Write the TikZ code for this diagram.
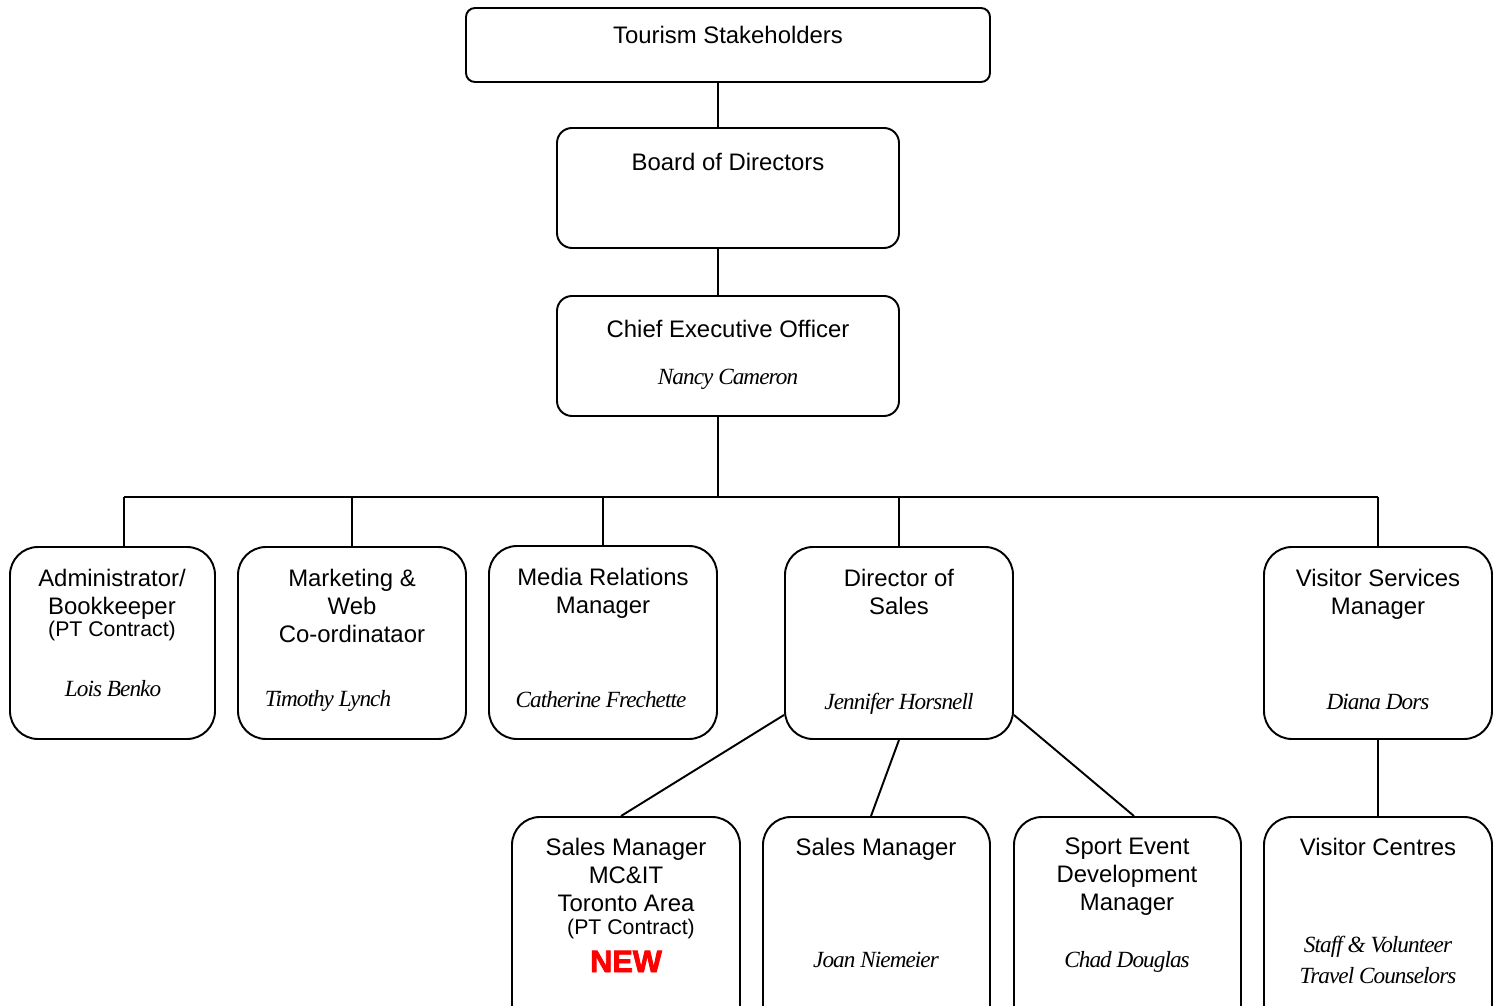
\documentclass[tikz,border=0pt]{standalone}
\usepackage{fontspec}
\setsansfont{Liberation Sans}
\newfontfamily\namefont[LetterSpace=-4]{Liberation Serif}
\newfontfamily\heavyfont[FakeBold=2.5]{Liberation Sans Bold}
\usetikzlibrary{fit}
\definecolor{newred}{RGB}{255,0,0}

\begin{document}
\begin{tikzpicture}[x=0.02cm,y=-0.02cm,line width=1.1pt,
  box/.style={draw,rounded corners=#1,inner sep=0pt},
  box/.default=0.56cm,
  ttl/.style={anchor=north,inner sep=0pt,align=center,font=\sffamily\fontsize{13.6}{15.9}\selectfont},
  who/.style={anchor=base,inner sep=0pt,align=center,font=\namefont\itshape\fontsize{13.2}{18}\selectfont}]
\useasboundingbox (0,0) rectangle (1499,1006);
\clip (0,0) rectangle (1499,1006);
% top of the chart
\node[box=0.18cm,fit={(466,8) (990,82)}] (tour) {};
\node[box=0.3cm,fit={(557,128) (899,248)}] (board) {};
\node[box=0.3cm,fit={(557,296) (899,416)}] (ceo) {};
\node[ttl] (tourT) at (728,25) {Tourism Stakeholders};
\node[ttl] (boardT) at (728,152) {Board of Directors};
\node[ttl] (ceoT) at (728,319) {Chief Executive Officer};
\node[who] (ceoN) at (728,385) {Nancy Cameron};
\coordinate (spine) at (718,497);
\coordinate (busL) at (124,497);
\coordinate (busR) at (1378,497);
\draw (tour.south -| spine) -- (board.north -| spine);
\draw (board.south -| spine) -- (ceo.north -| spine);
\draw (ceo.south -| spine) -- (spine);
% managers
\node[box,fit={(10,547) (215,739)}] (admin) {};
\node[box,fit={(238,547) (466,739)}] (mkt) {};
\node[box,fit={(489,546) (717,739)}] (media) {};
\node[box,fit={(785,547) (1013,739)}] (dir) {};
\node[box,fit={(1264,547) (1492,739)}] (vis) {};
\node[ttl] (adminT) at (112,568) {Administrator/\\Bookkeeper\\[-0.12cm]{\fontsize{12.1}{14}\selectfont(PT Contract)}};
\node[who] (adminN) at (113,697) {Lois Benko};
\node[ttl] (mktT) at (352,568) {Marketing \&\\Web\\Co-ordinataor};
\node[who] (mktN) at (328,707) {Timothy Lynch};
\node[ttl] (mediaT) at (603,567) {Media Relations\\Manager};
\node[who] (mediaN) at (601,708) {Catherine Frechette};
\node[ttl] (dirT) at (899,568) {Director of\\Sales};
\node[who] (dirN) at (899,710) {Jennifer Horsnell};
\node[ttl] (visT) at (1378,568) {Visitor Services\\Manager};
\node[who] (visN) at (1378,710) {Diana Dors};
\draw (busL) -- (busR);
\draw (busL) -- (busL |- admin.north);
\foreach \n in {mkt,media,dir,vis}
  \draw (\n.north) -- (\n.north |- busL);
% sales team and centres
\node[box,fit={(512,817) (740,1040)}] (smc) {};
\node[box,fit={(763,817) (990,1040)}] (sales) {};
\node[box,fit={(1014,817) (1241,1040)}] (sport) {};
\node[box,fit={(1264,817) (1492,1040)}] (vcent) {};
\node[ttl] (smcT) at (626,837) {Sales Manager\\MC\&IT\\Toronto Area\\[-0.1cm]\hspace*{0.2cm}{\fontsize{12.1}{14}\selectfont(PT Contract)}};
\node[anchor=base,inner sep=0pt,text=newred,font=\heavyfont\fontsize{17.5}{18}\selectfont] (smcNew) at (626,972) {NEW};
\node[ttl] (salesT) at (876,837) {Sales Manager};
\node[who] (salesN) at (876,968) {Joan Niemeier};
\node[ttl] (sportT) at (1127,837) {Sport Event\\Development\\Manager};
\node[who] (sportN) at (1127,968) {Chad Douglas};
\node[ttl] (vcentT) at (1378,837) {Visitor Centres};
\node[who,anchor=north] (vcentN) at (1378,935) {Staff \& Volunteer\\Travel Counselors};
\draw ([yshift=0.5cm]dir.south west) -- ([xshift=-0.1cm]smc.north);
\draw (dir.south) -- ([xshift=-0.11cm]sales.north);
\draw ([yshift=0.5cm]dir.south east) -- ([xshift=0.13cm]sport.north);
\draw (vis.south) -- (vcent.north);
\end{tikzpicture}
\end{document}
